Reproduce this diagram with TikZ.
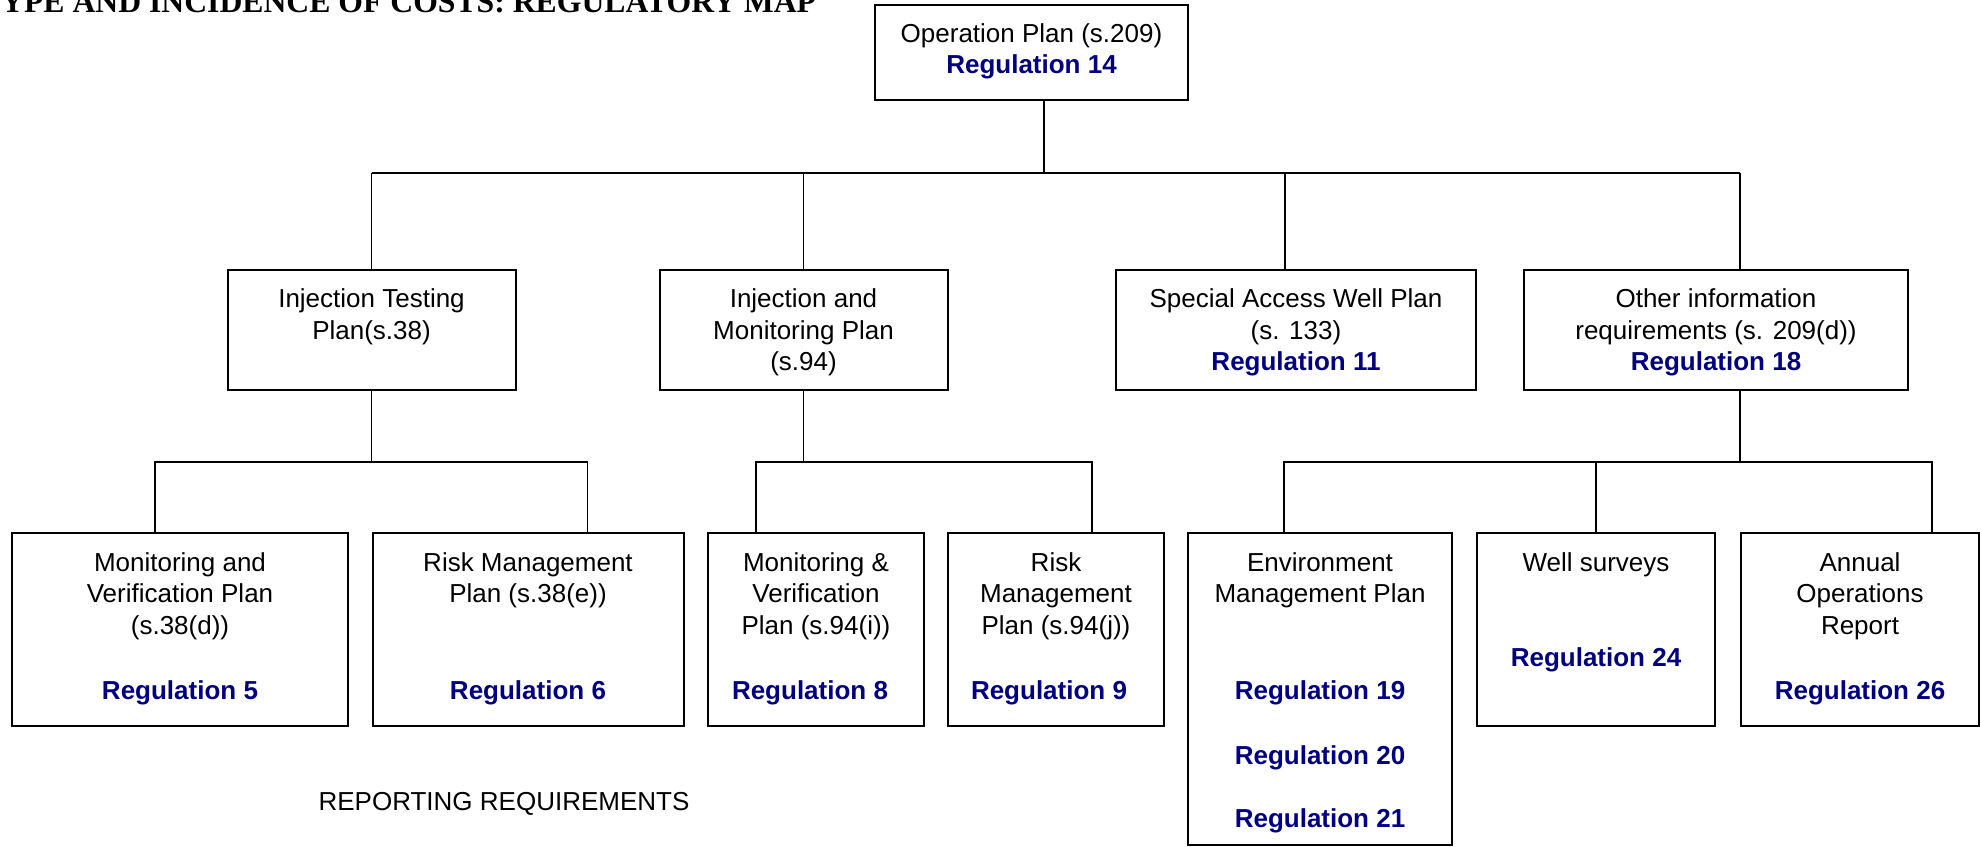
\documentclass[tikz,border=0pt]{standalone}
\usepackage{fontspec}
\setmainfont{Liberation Sans}
\newfontfamily\titlefont{Liberation Serif}
\usetikzlibrary{positioning, calc}
\definecolor{regblue}{HTML}{000080}
\newcommand{\reglabel}[1]{\textbf{\color{regblue}#1}}

\begin{document}
\begin{tikzpicture}[
  x=1pt, y=-1pt,
  box/.style={
    rectangle, draw=black, line width=2pt,
    minimum width=#1, inner sep=0pt
  },
  txt/.style={
    font=\fontsize{26}{31.6}\selectfont, align=center,
    inner sep=0pt, anchor=north
  },
  reg/.style={
    font=\fontsize{26}{31.6}\selectfont\bfseries, text=regblue,
    inner sep=0pt, anchor=base
  },
  link/.style={line width=1.4pt}
]
  \useasboundingbox (0,0) rectangle (1981,846);

  \node[font=\titlefont\bfseries\fontsize{31.7}{36}\selectfont,
    anchor=base west, inner sep=0pt] (title) at (1,12.7)
    {YPE AND INCIDENCE OF COSTS: REGULATORY MAP};

  % Top
  \node[box=313, minimum height=95] (opplan) at (1031.5,52.5) {};
  \node[txt] (opplantxt) at (1031.5,23) {Operation Plan (s.209)\\\reglabel{Regulation 14}};

  % Level 1
  \node[box=288, minimum height=119.5] (itp) at (371.5,329.75) {};
  \node[box=288, minimum height=119.5] (imp) at (803.5,329.75) {};
  \node[box=360, minimum height=119.5] (sawp) at (1296,329.75) {};
  \node[box=384, minimum height=119.5] (oir) at (1716,329.75) {};

  \node[txt] (itptxt) at (371.5,288.5) {Injection Testing\\Plan(s.38)};
  \node[txt] (imptxt) at (803.5,288.5) {Injection and\\Monitoring Plan\\(s.94)};
  \node[txt] (sawptxt) at (1296,288.5) {Special Access Well Plan\\(s. 133)\\\reglabel{Regulation 11}};
  \node[txt] (oirtxt) at (1716,288.5) {Other information\\requirements (s. 209(d))\\\reglabel{Regulation 18}};

  % Level 2
  \node[box=335.5, minimum height=193] (mvp38) at (179.75,629.5) {};
  \node[box=311, minimum height=193] (rmp38) at (528,629.5) {};
  \node[box=216, minimum height=193] (mvp94) at (816,629.5) {};
  \node[box=216, minimum height=193] (rmp94) at (1056,629.5) {};
  \node[box=264, minimum height=312] (emp) at (1320,689) {};
  \node[box=238, minimum height=193] (wsv) at (1596,629.5) {};
  \node[box=238, minimum height=193] (aor) at (1860,629.5) {};

  \node[txt] (mvp38txt) at (180,552) {Monitoring and\\Verification Plan\\(s.38(d))};
  \node[txt] (rmp38txt) at (528,552) {Risk Management\\Plan (s.38(e))};
  \node[txt] (mvp94txt) at (816,552) {Monitoring \&\\Verification\\Plan (s.94(i))};
  \node[txt] (rmp94txt) at (1056,552) {Risk\\Management\\Plan (s.94(j))};
  \node[txt] (emptxt) at (1320,552) {Environment\\Management Plan};
  \node[txt] (wsvtxt) at (1596,552) {Well surveys};
  \node[txt] (aortxt) at (1860,552) {Annual\\Operations\\Report};

  \node[reg] (reg5) at (180,699.5) {Regulation 5};
  \node[reg] (reg6) at (528,699.5) {Regulation 6};
  \node[reg] (reg8) at (810,699.5) {Regulation 8};
  \node[reg] (reg9) at (1049,699.5) {Regulation 9};
  \node[reg] (reg19) at (1320,699.5) {Regulation 19};
  \node[reg] (reg20) at (1320,764.5) {Regulation 20};
  \node[reg] (reg21) at (1320,827.5) {Regulation 21};
  \node[reg] (reg24) at (1596,666) {Regulation 24};
  \node[reg] (reg26) at (1860,699.5) {Regulation 26};

  \node[font=\fontsize{26}{31.6}\selectfont, inner sep=0pt, anchor=base]
    (reporting) at (504,810) {REPORTING REQUIREMENTS};

  % Connectors
  \coordinate (top) at (1044,173);
  \coordinate (bus1w) at (371.5,173);
  \coordinate (bus1e) at (1740,173);
  \coordinate (sawptap) at (1285,173);
  \draw[link] (opplan.south -| top) -- (top);
  \draw[link] (bus1w) -- (bus1e);
  \draw[link] (bus1w) -- (itp.north);
  \draw[link] (imp.north |- top) -- (imp.north);
  \draw[link] (sawptap) -- (sawptap |- sawp.north);
  \draw[link] (bus1e) -- (bus1e |- oir.north);

  \coordinate (mvp38tap) at (155,462);
  \coordinate (rmp38tap) at (587.5,462);
  \draw[link] (itp.south) -- (itp.south |- mvp38tap);
  \draw[link] (mvp38tap |- mvp38.north) -- (mvp38tap) -- (rmp38tap) -- (rmp38tap |- rmp38.north);

  \coordinate (mvp94tap) at (756,462);
  \coordinate (rmp94tap) at (1092,462);
  \draw[link] (imp.south) -- (imp.south |- mvp94tap);
  \draw[link] (mvp94tap |- mvp94.north) -- (mvp94tap) -- (rmp94tap) -- (rmp94tap |- rmp94.north);

  \coordinate (emptap) at (1284,462);
  \coordinate (aortap) at (1932,462);
  \coordinate (oirtap) at (1740,462);
  \draw[link] (oirtap |- oir.south) -- (oirtap);
  \draw[link] (emptap |- emp.north) -- (emptap) -- (aortap) -- (aortap |- aor.north);
  \draw[link] (wsv.north) -- (wsv.north |- emptap);
\end{tikzpicture}
\end{document}
